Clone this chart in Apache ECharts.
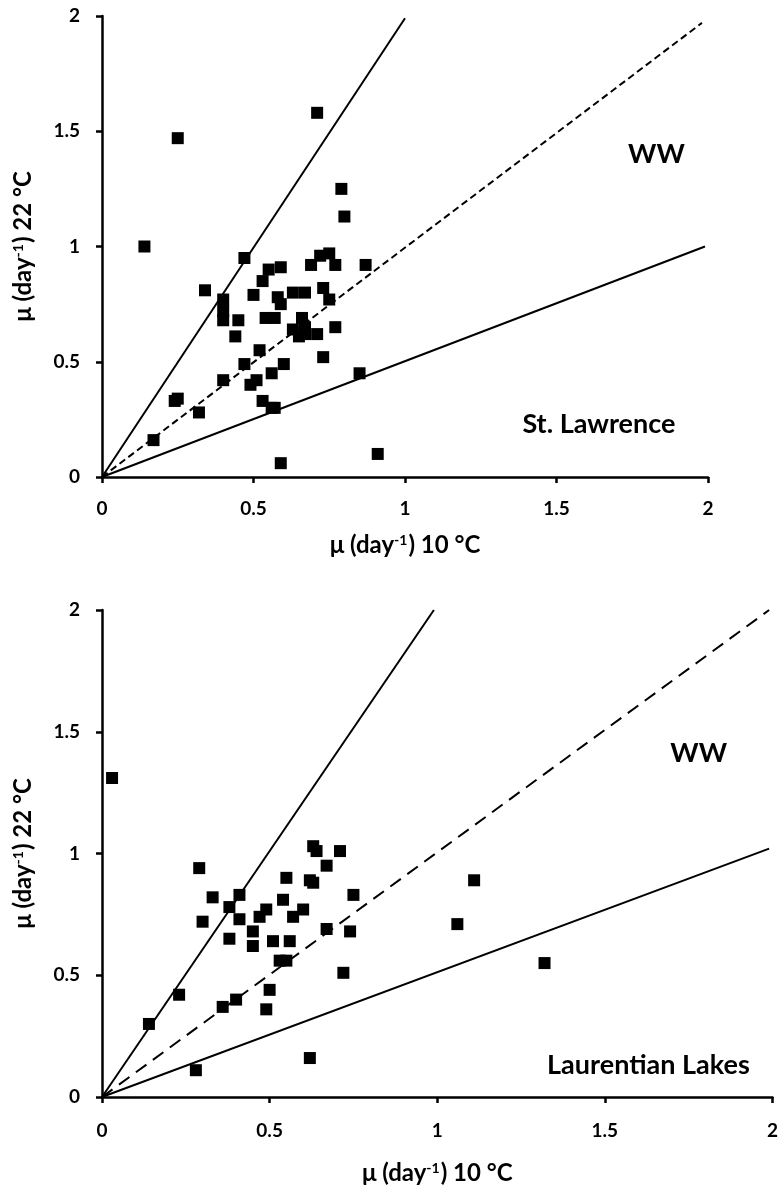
<!DOCTYPE html>
<html>
<head>
<meta charset="utf-8">
<script src="https://cdn.jsdelivr.net/npm/echarts@6/dist/echarts.min.js"></script>
<style>
html,body{margin:0;padding:0;background:#fff;}
#chart{width:781px;height:1186px;}
</style>
</head>
<body>
<div id="chart"></div>
<script>
// ---- Data ----
// St. Lawrence: growth rate at 10 °C (x) vs 22 °C (y)
const stLawrenceX = [0.71,0.25,0.79,0.80,0.14,0.47,0.34,0.40,0.40,0.40,0.45,0.44,0.50,0.53,0.55,0.59,0.58,0.59,0.63,0.67,0.69,0.72,0.75,0.77,0.73,0.75,0.87,0.54,0.57,0.66,0.63,0.67,0.65,0.67,0.71,0.77,0.73,0.52,0.47,0.40,0.49,0.51,0.56,0.60,0.85,0.25,0.24,0.32,0.53,0.56,0.57,0.17,0.59,0.91];
const stLawrenceY = [1.58,1.47,1.25,1.13,1.00,0.95,0.81,0.77,0.72,0.68,0.68,0.61,0.79,0.85,0.90,0.91,0.78,0.75,0.80,0.80,0.92,0.96,0.97,0.92,0.82,0.77,0.92,0.69,0.69,0.69,0.64,0.65,0.61,0.62,0.62,0.65,0.52,0.55,0.49,0.42,0.40,0.42,0.45,0.49,0.45,0.34,0.33,0.28,0.33,0.30,0.30,0.16,0.06,0.10];
// Laurentian Lakes
const laurentianX = [0.03,0.29,0.33,0.41,0.38,0.30,0.41,0.38,0.45,0.45,0.47,0.49,0.54,0.55,0.57,0.60,0.51,0.56,0.53,0.55,0.63,0.64,0.71,0.67,0.62,0.63,0.75,0.67,0.74,0.72,0.23,0.14,0.36,0.40,0.50,0.49,0.28,0.62,1.11,1.06,1.32];
const laurentianY = [1.31,0.94,0.82,0.83,0.78,0.72,0.73,0.65,0.68,0.62,0.74,0.77,0.81,0.90,0.74,0.77,0.64,0.64,0.56,0.56,1.03,1.01,1.01,0.95,0.89,0.88,0.83,0.69,0.68,0.51,0.42,0.30,0.37,0.40,0.44,0.36,0.11,0.16,0.89,0.71,0.55];
// Reference lines (slope 2, 1, 0.5) endpoints
const topSteep  = [[0,0],[1.00,1.99]];
const topOneOne = [[0,0],[1.98,1.97]];
const topHalf   = [[0,0],[1.99,1.00]];
const botSteep  = [[0,0],[0.99,2.00]];
const botOneOne = [[0,0],[1.99,2.00]];
const botHalf   = [[0,0],[1.99,1.02]];
// Tick values
const tickValues = [0, 0.5, 1, 1.5, 2];
// Annotations
const topLabels = [{name:'WW', value:[1.83,1.40]}, {name:'St. Lawrence', value:[1.64,0.23]}];
const botLabels = [{name:'WW', value:[1.78,1.41]}, {name:'Laurentian Lakes', value:[1.63,0.13]}];

const zip = (xs, ys) => xs.map((x, i) => [x, ys[i]]);

const FONT = 'Lato';
const tickStyle = {color:'#000', fontFamily:FONT, fontWeight:'bold', fontSize:19};
const nameRich = {
  a:{color:'#000', fontFamily:FONT, fontWeight:'bold', fontSize:24},
  s:{color:'#000', fontFamily:FONT, fontWeight:'bold', fontSize:14, verticalAlign:'top', padding:[0,1,10,0]}
};
const xName = '{a|μ (day}{s|-1}{a|) 10 °C}';
const yName = '{a|μ (day}{s|-1}{a|) 22 °C}';

function xAxis(gridIndex, nameGap, margin){
  return {
    type:'value', gridIndex, min:0, max:2, interval:0.5,
    name:xName, nameLocation:'middle', nameGap,
    nameTextStyle:{rich:nameRich},
    axisLine:{show:true, onZero:false, lineStyle:{color:'#000', width:2.5}},
    axisTick:{show:true, length:6, lineStyle:{color:'#000', width:2.5}},
    axisLabel:{...tickStyle, margin, formatter:v => tickValues.includes(v) ? String(v) : ''},
    splitLine:{show:false}
  };
}
function yAxis(gridIndex, nameGap){
  return {
    type:'value', gridIndex, min:0, max:2, interval:0.5,
    name:yName, nameLocation:'middle', nameGap, nameRotate:90,
    nameTextStyle:{rich:nameRich},
    axisLine:{show:true, onZero:false, lineStyle:{color:'#000', width:2.5}},
    axisTick:{show:true, length:6, lineStyle:{color:'#000', width:2.5}},
    axisLabel:{...tickStyle, margin:22, formatter:v => tickValues.includes(v) ? String(v) : ''},
    splitLine:{show:false}
  };
}
function refLine(idx, data, dashed){
  return {
    type:'line', xAxisIndex:idx, yAxisIndex:idx, data, symbol:'none', clip:false,
    lineStyle:{color:'#000', width:2, type: dashed || 'solid'}, z:2
  };
}
function points(idx, data){
  return {
    type:'scatter', xAxisIndex:idx, yAxisIndex:idx, data, symbol:'rect', symbolSize:12,
    itemStyle:{color:'#000', opacity:1}, z:3
  };
}
function labels(idx, data){
  return {
    type:'scatter', xAxisIndex:idx, yAxisIndex:idx, data, symbolSize:0, z:4,
    itemStyle:{color:'#000', opacity:1},
    label:{show:true, position:'inside', formatter:p => p.name, color:'#000', opacity:1, fontFamily:FONT, fontWeight:'bold', fontSize:27}
  };
}

const chart = echarts.init(document.getElementById('chart'), null, {renderer:'canvas'});
chart.setOption({
  animation:false,
  backgroundColor:'#fff',
  grid:[
    {left:102, top:16, width:606, height:461},
    {left:102, top:610, width:673, height:487}
  ],
  xAxis:[xAxis(0, 56, 22), xAxis(1, 64, 24)],
  yAxis:[yAxis(0, 67), yAxis(1, 67)],
  series:[
    refLine(0, topSteep), refLine(0, topOneOne, [7,4]), refLine(0, topHalf),
    points(0, zip(stLawrenceX, stLawrenceY)),
    labels(0, topLabels),
    refLine(1, botSteep), refLine(1, botOneOne, [13,8]), refLine(1, botHalf),
    points(1, zip(laurentianX, laurentianY)),
    labels(1, botLabels)
  ]
});
</script>
</body>
</html>
